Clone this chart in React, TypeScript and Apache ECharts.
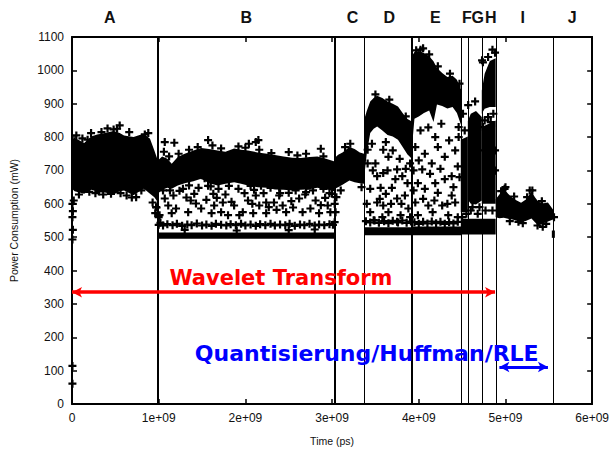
import React, { useEffect, useRef } from 'react';
import * as echarts from 'echarts';

// x values are in units of 1e9 ps, y in mW
const bandA = [[0.0,645,795],[0.03,638,798],[0.14,630,782],[0.22,642,802],[0.29,638,808],[0.38,634,812],[0.48,628,818],[0.55,638,812],[0.60,640,805],[0.71,626,800],[0.78,638,806],[0.83,645,810],[0.90,630,795],[0.95,620,760],[0.99,605,730]];
const bandBTop = [[0.99,630,730],[1.04,642,742],[1.10,648,735],[1.15,645,720],[1.22,655,740],[1.30,662,750],[1.40,668,760],[1.49,675,767],[1.58,662,764],[1.68,655,760],[1.77,660,756],[1.87,665,766],[1.95,660,762],[2.03,655,760],[2.14,650,754],[2.25,648,750],[2.34,643,746],[2.44,642,742],[2.54,640,738],[2.64,642,737],[2.74,644,740],[2.83,648,742],[2.93,644,735],[3.03,638,727]];
const bandBBase = [[0.99,495,514],[3.03,495,514]];
const bandC = [[3.03,645,737],[3.07,650,747],[3.12,657,754],[3.20,670,770],[3.26,665,764],[3.32,662,754],[3.37,660,750]];
const bandDTop = [[3.37,680,852],[3.40,750,878],[3.44,812,907],[3.48,825,917],[3.52,832,924],[3.58,820,917],[3.64,806,907],[3.70,802,900],[3.76,792,892],[3.82,768,870],[3.87,748,854],[3.92,735,847]];
const bandDBase = [[3.37,506,530],[3.92,506,530]];
const bandETop = [[3.92,765,1042],[3.95,855,1055],[4.00,862,1058],[4.06,872,1052],[4.12,880,1042],[4.17,845,1027],[4.21,898,1007],[4.27,893,992],[4.33,886,980],[4.39,890,984],[4.44,872,972],[4.49,835,942]];
const bandEBase = [[3.92,506,532],[4.49,506,532]];
const bandF = [[4.485,575,792],[4.566,575,802]];
const bandG = [[4.566,612,848],[4.60,600,870],[4.66,598,878],[4.727,610,860]];
const bandHTop = [[4.727,870,940],[4.76,885,990],[4.82,890,1028],[4.887,890,1036]];
const bandHMid = [[4.727,600,830],[4.887,600,850]];
const bandFGHBase = [[4.485,508,555],[4.887,508,555]];
const bandI = [[4.887,560,614],[4.93,557,628],[4.98,558,647],[5.03,555,630],[5.08,553,618],[5.13,549,610],[5.18,544,603],[5.24,549,614],[5.30,556,637],[5.34,545,620],[5.38,535,606],[5.44,542,602],[5.49,547,604],[5.55,553,582]];
const bandJ = [[5.535,498,520],[5.57,498,520]];

const crossesA = [[0.005,600],[0.01,578],[0.005,560],[0.01,522],[0.005,493],[0.005,114],[0.005,61],[0.02,610],[0.31,637],[0.63,625],[0.69,619],[0.48,823],[0.55,835],[0.84,808],[0.41,826],[0.22,812],[0.12,796],[0.74,620],[0.45,630],[0.27,632],[0.93,604],[0.96,572],[1.02,543],[0.97,590],[1.00,560],
[0.05,805],[0.18,792],[0.34,815],[0.52,825],[0.66,815],[0.88,812],[0.08,628],[0.20,636],[0.36,628],[0.56,632],[0.80,640]];
const crossesB = [[1.07,785],[1.57,791],[2.04,780],[2.12,785],[1.06,756],[1.35,762],[2.15,791],[2.87,765],[2.16,762],[1.18,783],[1.23,750],[1.62,775],[1.92,772],[2.50,755],[2.70,750],
[1.12,742],[1.45,770],[1.72,766],[2.00,768],[2.30,752],[2.60,745],[2.90,742],[1.13,640],[1.35,655],[1.60,652],[2.10,642],[2.40,632],[2.70,635],[2.97,632],
[0.975,589],[1.01,566],[1.07,616],[1.11,595],[1.20,586],[1.24,639],[1.32,619],[1.41,630],[1.43,601],[1.53,677],[1.57,654],[1.63,630],[1.64,595],[1.72,575],[1.74,604],[1.81,654],[1.87,595],[1.92,645],[1.97,575],[2.03,610],[1.15,572],[1.34,575],[1.49,586],[1.61,572],[1.80,566],[1.93,566],[1.28,645],[1.69,645],
[2.06,654],[2.12,625],[2.18,654],[2.24,604],[2.16,595],[2.29,648],[2.33,604],[2.39,625],[2.43,595],[2.49,668],[2.50,633],[2.55,589],[2.62,616],[2.66,575],[2.72,654],[2.75,586],[2.81,610],[2.85,572],[2.90,645],[2.95,595],[2.98,575],[2.09,572],[2.24,572],[2.47,575],[2.39,648],
[1.05,640],[1.17,625],[1.37,610],[1.46,648],[1.55,612],[1.67,618],[1.77,628],[1.84,606],[1.99,632],[2.08,600],[2.21,632],[2.36,582],[2.58,640],[2.69,628],[2.78,640],[2.92,618],[3.00,630],[2.27,590],[2.53,608],[2.87,596]];
const crossesBRow = [[1.00,537],[1.05,535],[1.10,539],[1.16,536],[1.21,540],[1.27,534],[1.33,538],[1.38,536],[1.44,541],[1.50,535],[1.55,538],[1.61,534],[1.66,540],[1.72,537],[1.78,535],[1.83,539],[1.89,536],[1.95,540],[2.00,535],[2.06,538],[2.12,534],[2.17,539],[2.23,536],[2.29,540],[2.34,535],[2.40,538],[2.46,536],[2.51,540],[2.57,534],[2.63,538],[2.68,536],[2.74,540],[2.80,535],[2.85,538],[2.91,536],[2.97,539],[3.01,537],[1.30,522],[1.90,520],[2.50,521],[2.80,523]];
const crossesC = [[3.03,600],[3.04,575],[3.03,545],[3.05,620],[3.21,780],[3.10,640],[3.15,770],[3.34,650]];
const crossesD = [[3.59,762],[3.50,721],[3.65,741],[3.75,703],[3.81,683],[3.52,683],[3.44,645],[3.56,648],[3.69,648],[3.52,604],[3.59,595],[3.75,616],[3.84,625],[3.44,575],[3.65,575],[3.79,566],[3.88,586],[3.48,551],[3.75,546],[3.41,721],[3.41,762],[3.87,662],[3.73,674],[3.59,692],[3.90,721],[3.46,780],[3.62,785],[3.70,760],[3.78,735],[3.85,705],[3.55,615],[3.68,600],[3.62,630],[3.47,700],[3.40,600],[3.80,600],[3.58,560],[3.90,560],[3.64,700],
[3.39,548],[3.44,544],[3.49,550],[3.54,543],[3.60,548],[3.65,542],[3.70,549],[3.76,544],[3.81,550],[3.86,543],[3.91,547],[3.50,928],[3.66,912],[3.85,862]];
const crossesE = [[3.96,770],[4.11,829],[4.19,800],[4.22,770],[4.07,750],[4.30,741],[4.04,703],[4.15,721],[4.38,683],[4.45,712],[3.99,662],[4.19,662],[4.30,674],[4.07,645],[4.22,633],[4.38,625],[3.96,604],[4.11,595],[4.27,595],[4.42,604],[3.99,566],[4.16,575],[4.34,566],[4.45,560],[4.26,840],[4.35,790],[4.42,760],[4.02,820],[4.13,690],[4.25,705],[4.40,650],[4.05,615],[4.18,610],[4.33,600],[4.47,680],[3.94,700],[3.94,640],[4.00,730],[4.46,800],[4.46,830],
[3.95,545],[4.00,540],[4.05,546],[4.10,541],[4.15,547],[4.20,542],[4.25,546],[4.30,540],[4.35,545],[4.40,541],[4.45,546],[3.97,1060],[4.05,1066],[4.12,1048],[4.02,1062],[4.22,1012],[4.36,990],[4.47,960]];
const crossesFGH = [[4.74,1024],[4.80,1040],[4.88,1053],[4.85,1062],[4.73,1030],[4.57,896],[4.65,907],[4.51,870],[4.53,820],[4.60,580],[4.68,570],[4.70,590],[4.76,850],[4.80,860],[4.86,870],[4.74,830],[4.83,845],[4.50,560],[4.55,570],[4.62,590],[4.77,580],[4.85,580],[4.88,760],[4.88,700],[4.75,760],[4.79,720],[4.84,690]];
const crossesI = [[4.99,645],[5.31,640],[5.43,531],[5.56,560],[4.95,638],[5.25,620],[5.05,548],[5.20,542],[5.47,540],[5.00,650],[5.10,622],[5.28,640],[5.42,608],[5.15,546],[5.37,535]];

const boundaries = [0.987, 3.03, 3.37, 3.92, 4.485, 4.566, 4.727, 4.887, 5.552];
const majorBoundaries = [0.987, 3.03, 3.92];
const segmentNames = ['A','B','C','D','E','F','G','H','I','J'];
const segmentCenters = [0.436, 2.01, 3.235, 3.66, 4.19, 4.555, 4.68, 4.83, 5.2, 5.77];

const waveletRange = [0, 4.88];
const waveletLevel = 335;
const waveletText = 'Wavelet Transform';
const waveletTextPos = [2.41, 379];
const quantRange = [4.93, 5.49];
const quantLevel = 111;
const quantText = 'Quantisierung/Huffman/RLE';
const quantTextPos = [3.40, 152];

const bands = [bandA, bandBTop, bandBBase, bandC, bandDTop, bandDBase, bandETop, bandEBase, bandF, bandG, bandHTop, bandHMid, bandFGHBase, bandI, bandJ];
const crosses = [...crossesA, ...crossesB, ...crossesBRow, ...crossesC, ...crossesD, ...crossesE, ...crossesFGH, ...crossesI];

export default function App() {
  const ref = useRef<HTMLDivElement>(null);
  useEffect(() => {
    document.body.style.margin = '0';
    const chart = echarts.init(ref.current as HTMLDivElement, null, { renderer: 'svg' });
    const plus = 'path://M2.9,0H5.1V2.9H8V5.1H5.1V8H2.9V5.1H0V2.9H2.9Z';
    const font = 'Liberation Sans, Arial, Helvetica, sans-serif';
    const boldFont = 'DejaVu Sans, Verdana, sans-serif';
    const axisLine = { show: true, onZero: false, lineStyle: { color: '#000', width: 2 } };
    const axisTick = { show: true, inside: true, length: 5, lineStyle: { color: '#000', width: 1.5 } };
    chart.setOption({
      animation: false,
      grid: { left: 70, right: 19, top: 37, bottom: 37 },
      xAxis: [
        {
          type: 'value', min: 0, max: 6, interval: 1, position: 'bottom',
          axisLine, axisTick, splitLine: { show: false },
          axisLabel: { formatter: (v: number) => (v === 0 ? '0' : `${v}e+09`), color: '#111', fontSize: 12, fontFamily: font, margin: 8 },
          name: 'Time (ps)', nameLocation: 'middle', nameGap: 31,
          nameTextStyle: { color: '#111', fontSize: 10.5, fontFamily: font },
        },
        {
          type: 'value', min: 0, max: 6, interval: 1, position: 'top',
          axisLine, axisTick, splitLine: { show: false }, axisLabel: { show: false },
        },
      ],
      yAxis: [
        {
          type: 'value', min: 0, max: 1100, interval: 100, position: 'left',
          axisLine, axisTick, splitLine: { show: false },
          axisLabel: { formatter: (v: number) => String(v), color: '#111', fontSize: 12, fontFamily: font, margin: 8 },
          name: 'Power Consumption (mW)', nameLocation: 'middle', nameGap: 53, nameRotate: 90,
          nameTextStyle: { color: '#111', fontSize: 10.5, fontFamily: font },
        },
        {
          type: 'value', min: 0, max: 1100, interval: 100, position: 'right',
          axisLine, axisTick, splitLine: { show: false }, axisLabel: { show: false },
        },
      ],
      series: [
        {
          type: 'custom', xAxisIndex: 0, yAxisIndex: 0, silent: true, z: 2,
          data: bands.map((b, i) => [b[0][0], b[0][1], i]),
          renderItem: (params: any, api: any) => {
            const b = bands[api.value(2)];
            const top = b.map((p) => api.coord([p[0], p[2]]));
            const bot = b.slice().reverse().map((p) => api.coord([p[0], p[1]]));
            return { type: 'polygon', shape: { points: top.concat(bot) }, style: { fill: '#000' } };
          },
        },
        {
          type: 'scatter', xAxisIndex: 0, yAxisIndex: 0, silent: true, z: 3,
          symbol: plus, symbolSize: 8, itemStyle: { color: '#000', opacity: 1 },
          data: crosses,
          markLine: {
            silent: true, animation: false, label: { show: false },
            symbol: ['none', 'none'],
            data: [
              ...boundaries.map((b) => ({ xAxis: b, lineStyle: { color: '#000', type: 'solid', width: majorBoundaries.includes(b) ? 2 : 1 } })),
              [
                { coord: [waveletRange[0], waveletLevel], symbol: 'arrow', symbolSize: [8, 10], lineStyle: { color: '#ff0000', type: 'solid', width: 3.5 } },
                { coord: [waveletRange[1], waveletLevel], symbol: 'arrow', symbolSize: [8, 10] },
              ],
              [
                { coord: [quantRange[0], quantLevel], symbol: 'arrow', symbolSize: [8, 10], lineStyle: { color: '#0000ff', type: 'solid', width: 3 } },
                { coord: [quantRange[1], quantLevel], symbol: 'arrow', symbolSize: [8, 10] },
              ],
            ],
          },
        },
        {
          type: 'scatter', xAxisIndex: 0, yAxisIndex: 0, silent: true, z: 5, clip: false,
          symbolSize: 0, itemStyle: { opacity: 1 },
          data: [
            { name: waveletText, value: waveletTextPos, label: { color: '#ff0000', fontSize: 21 } },
            { name: quantText, value: quantTextPos, label: { color: '#0000ff', fontSize: 22 } },
          ],
          label: { show: true, position: 'inside', formatter: '{b}', fontWeight: 'bold', fontFamily: boldFont, opacity: 1 },
        },
        {
          type: 'scatter', xAxisIndex: 0, yAxisIndex: 0, silent: true, z: 5, clip: false,
          symbolSize: 0, itemStyle: { opacity: 1 },
          data: segmentNames.map((n, i) => ({ name: n, value: [segmentCenters[i], 1100] })),
          label: { show: true, position: 'inside', offset: [0, -20], formatter: '{b}', fontSize: 16, fontWeight: 'bold', fontFamily: font, color: '#111' },
        },
      ],
    });
    return () => chart.dispose();
  }, []);
  return <div ref={ref} style={{ position: 'fixed', left: 0, top: 0, width: 612, height: 451, background: '#fff' }} />;
}
